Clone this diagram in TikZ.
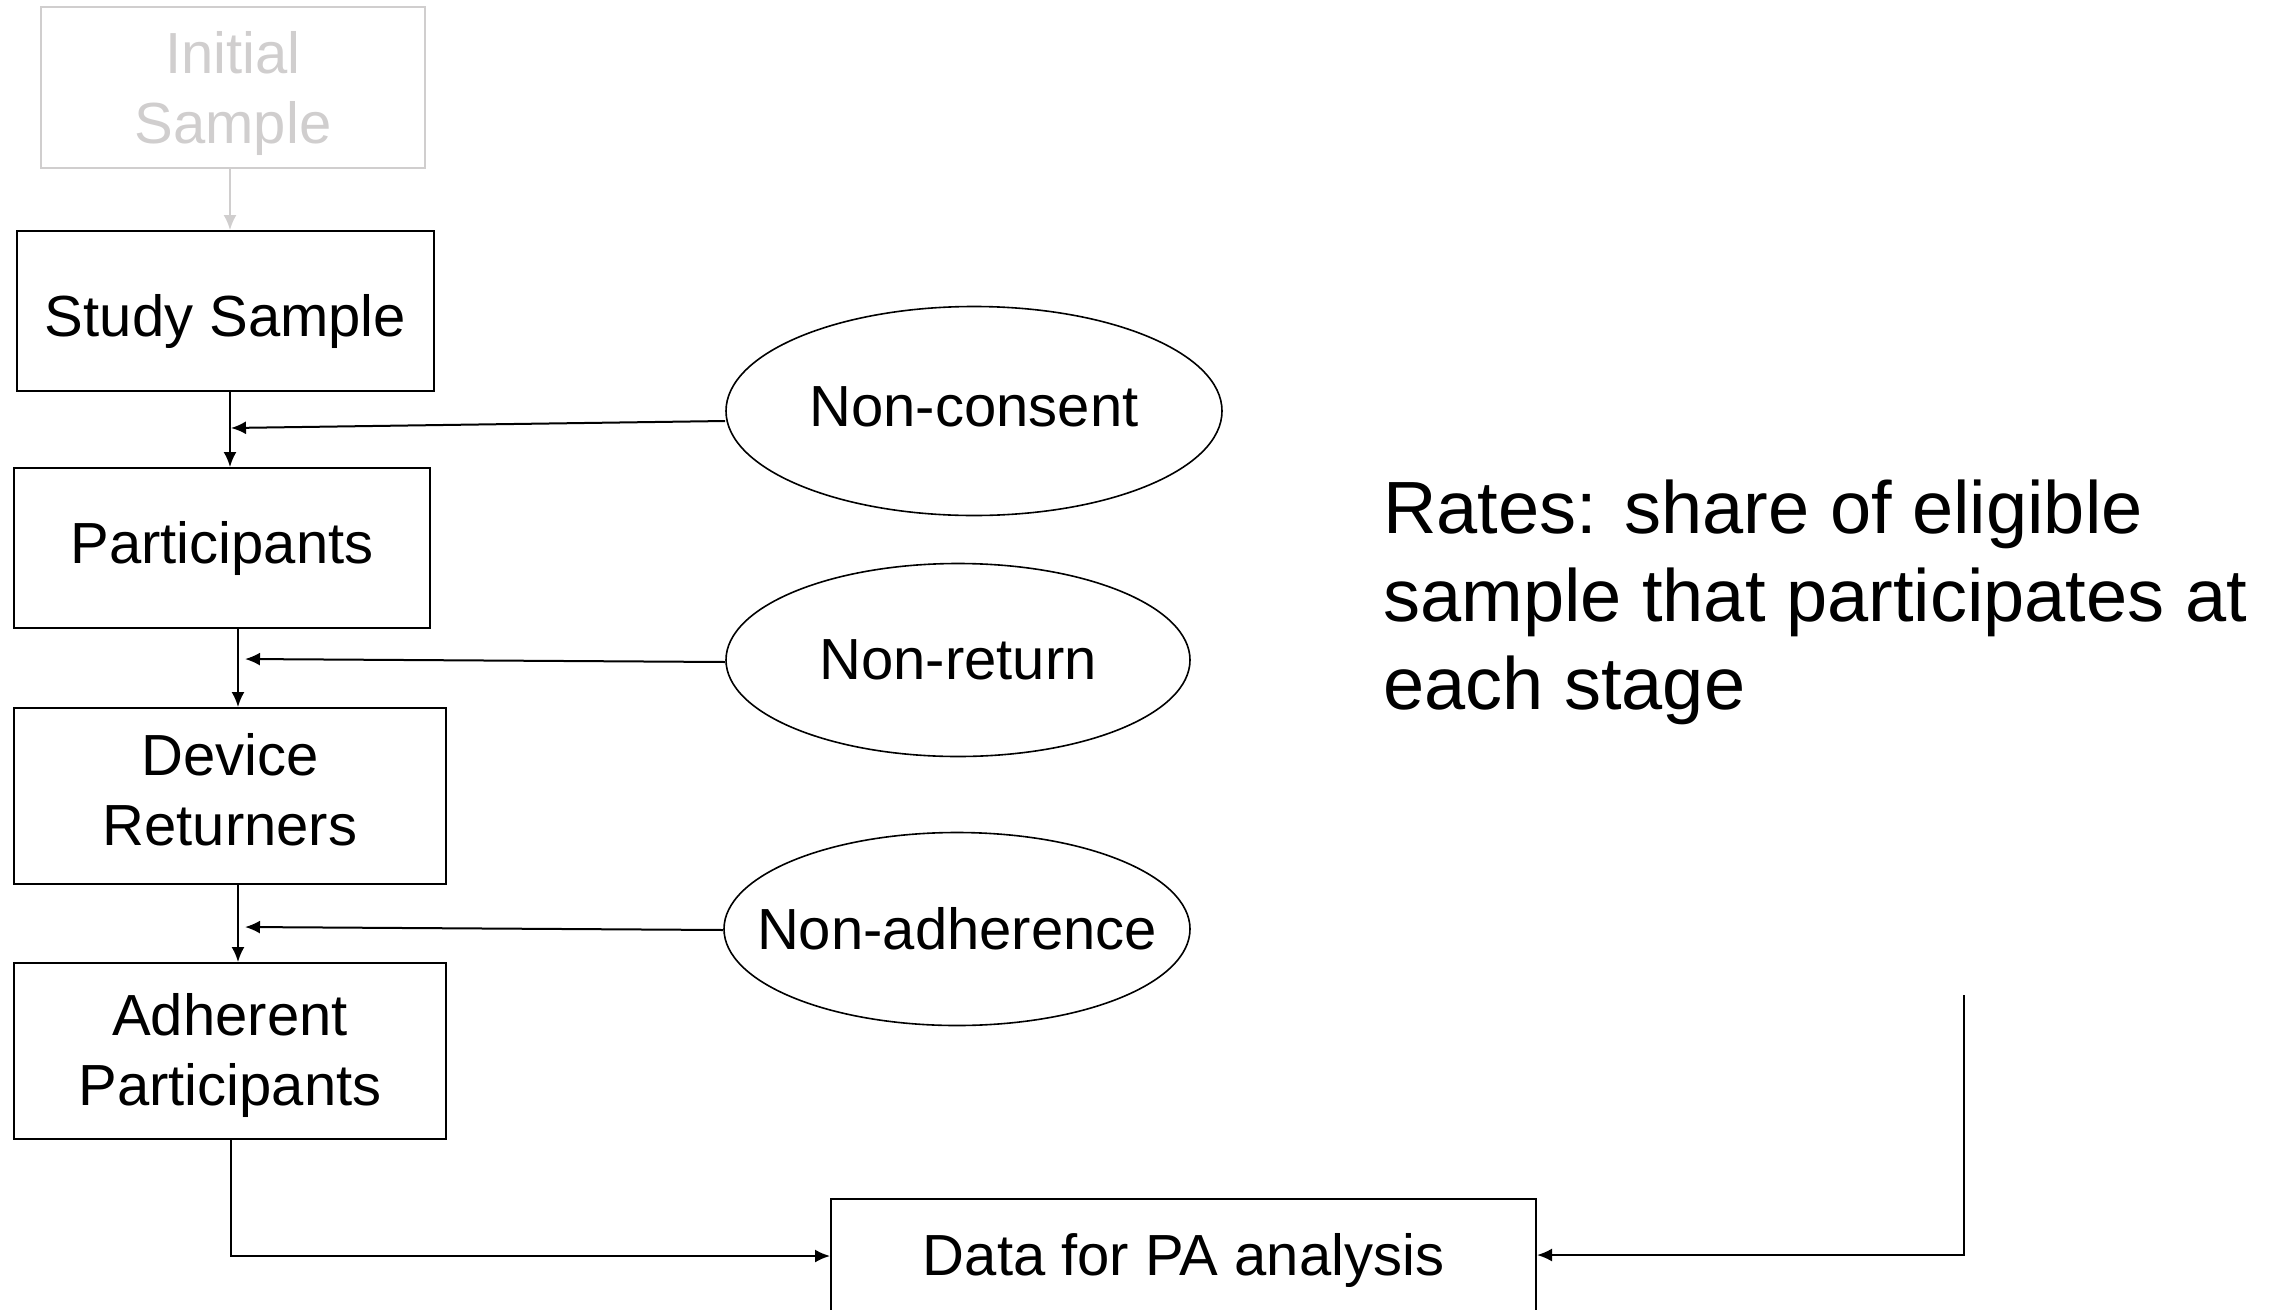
\documentclass[tikz,border=0pt]{standalone}
\usepackage{fontspec}
\setmainfont{Liberation Sans}
\usetikzlibrary{shapes.geometric,arrows.meta}
\definecolor{lightgr}{HTML}{D0CECE}
\newcommand\vshiftbox[2]{\raisebox{#1}[\height][\depth]{#2}}
\newcommand\twolines[2]{\begin{tabular}{@{}c@{}}#1\\#2\end{tabular}}
\begin{document}
\begin{tikzpicture}[x=1pt,y=-1pt,
  boxnode/.style={draw,line width=2pt,inner sep=0pt,align=center,font=\fontsize{58}{70}\selectfont},
  oval/.style={draw,ellipse,line width=1.6pt,inner sep=0pt},
  ovaltext/.style={font=\fontsize{58}{70}\selectfont},
  arr/.style={line width=2pt,-{Latex[length=15pt,width=13pt]}}]
\useasboundingbox (0,0) rectangle (2290,1309);
% boxes
\node[boxnode,draw=lightgr,text=lightgr,minimum width=384,minimum height=161] (init) at (233,87.5) {\vshiftbox{-7pt}{\twolines{Initial}{Sample}}};
\node[boxnode,minimum width=417,minimum height=160] (ss) at (225.5,311) {\vshiftbox{-10pt}{Study Sample}};
\node[boxnode,minimum width=416,minimum height=160] (pp) at (222,548) {Participants};
\node[boxnode,minimum width=432,minimum height=176] (dr) at (230,796) {\vshiftbox{0pt}{\twolines{Device}{Returners}}};
\node[boxnode,minimum width=432,minimum height=176] (ap) at (230,1051) {\vshiftbox{-5pt}{\twolines{Adherent}{Participants}}};
\node[boxnode,minimum width=705,minimum height=122] (data) at (1183.5,1260) {Data for PA analysis};
% ellipses
\node[oval,minimum width=496,minimum height=209,label={[ovaltext,yshift=4pt]center:Non-consent}] (e1) at (974,411) {};
\node[oval,minimum width=464,minimum height=193,label={[ovaltext]center:Non-return}] (e2) at (958,660) {};
\node[oval,minimum width=466,minimum height=193,label={[ovaltext]center:Non-adherence}] (e3) at (957,929) {};
% text
\node[anchor=north west,inner sep=0pt,align=left,font=\fontsize{74}{88}\selectfont] (rates) at (1383,480) {Rates: share of eligible\\sample that participates at\\each stage};
% coordinates
\coordinate (t0) at (230,0);
\coordinate (t1) at (230,0);
\coordinate (t2) at (238,0);
\coordinate (t4) at (231,0);
\coordinate (j1) at (231,428);
\coordinate (j2) at (245,659);
\coordinate (j3) at (245,927);
\coordinate (r0) at (1964,995);
\coordinate (r1) at (1964,1255);
\coordinate (b1) at (231,1256);
% connectors
\draw[arr,draw=lightgr] (init.south -| t0) -- (ss.north -| t0);
\draw[arr] (ss.south -| t1) -- (pp.north -| t1);
\draw[arr] (pp.south -| t2) -- (dr.north -| t2);
\draw[arr] (dr.south -| t2) -- (ap.north -| t2);
\draw[arr] ([yshift=-10pt]e1.west) -- (j1);
\draw[arr] ([yshift=-2pt]e2.west) -- (j2);
\draw[arr] ([yshift=-1pt]e3.west) -- (j3);
\draw[arr] (ap.south -| t4) -- (b1) -- (b1 -| data.west);
\draw[arr] (r0) -- (r1) -- (r1 -| data.east);
\end{tikzpicture}
\end{document}
